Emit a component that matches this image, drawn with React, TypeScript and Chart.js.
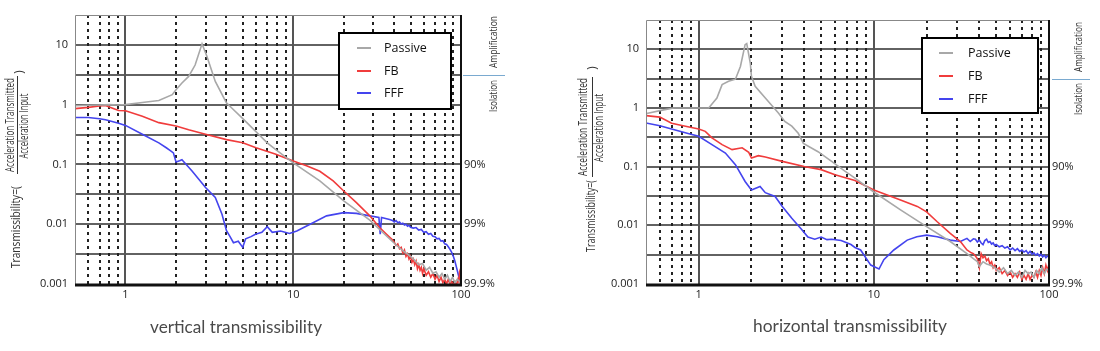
import React, { useEffect, useRef } from 'react';
import { Chart, registerables } from 'chart.js';

Chart.register(...registerables);

// ---------- axis / tick data ----------
const xTickValues = [1, 10, 100];
const xTickLabels = ['1', '10', '100'];
const yTickValues = [0.001, 0.01, 0.1, 1, 10];
const yTickLabels = ['0.001', '0.01', '0.1', '1', '10'];
const isoTickValues = [0.001, 0.01, 0.1];
const isoTickLabels = ['99.9%', '99%', '90%'];
const yGridValues = [0.00316, 0.01, 0.0316, 0.1, 0.316, 1, 3.162, 10];
const xMinorGrid = [0.6, 0.7, 0.8, 0.9, 2, 3, 4, 5, 6, 7, 8, 9, 20, 30, 40, 50, 60, 70, 80, 90];
const xMajorGrid = [1, 10];
const seriesLabels = ['Passive', 'FB', 'FFF'];
const chartTitles = ['vertical transmissibility', 'horizontal transmissibility'];

// ---------- vertical transmissibility ----------
const vPassiveFreq = [0.5, 0.6, 0.7, 0.8, 0.9, 1, 1.26, 1.58, 1.9, 2, 2.17, 2.38, 2.6, 2.86, 3.06, 3.43, 4, 4.3, 4.95, 5.95, 7, 7.8, 10, 14.4, 20, 28.6, 34.3, 40, 45, 50, 53, 56, 59, 62, 65, 68, 71, 74, 77, 80, 83, 86, 89, 92, 95, 98, 100];
const vPassiveVal = [0.96, 0.98, 0.99, 1.0, 0.99, 1.0, 1.09, 1.17, 1.47, 1.78, 2.3, 2.97, 4.6, 10.4, 6.4, 2.45, 1.07, 0.88, 0.6, 0.36, 0.23, 0.18, 0.106, 0.053, 0.0245, 0.0117, 0.0072, 0.0048, 0.0036, 0.0029, 0.0025, 0.0021, 0.0022, 0.0017, 0.0019, 0.0015, 0.0016, 0.0013, 0.0015, 0.0012, 0.0014, 0.0011, 0.0013, 0.00105, 0.0012, 0.0011, 0.00105];

const vFbFreq = [0.5, 0.6, 0.7, 0.76, 0.83, 0.91, 1, 1.26, 1.58, 2, 2.38, 3, 4, 5, 6, 7.8, 10, 12, 14.4, 17.3, 20, 23.8, 28.6, 32.7, 36, 39,
  40, 41, 42, 43, 44, 45, 46, 47, 48, 49, 50, 51, 52, 53, 54, 55, 56, 57, 58, 59, 60, 62, 64, 66, 68, 70, 72, 74, 76, 78, 80, 82, 84, 86, 88, 90, 92, 94, 96, 97, 98, 99, 100];
const vFbVal = [0.86, 0.9, 0.95, 0.97, 0.88, 0.8, 0.79, 0.64, 0.5, 0.44, 0.38, 0.32, 0.26, 0.23, 0.19, 0.15, 0.114, 0.095, 0.077, 0.053, 0.036, 0.023, 0.0138, 0.0088, 0.0068, 0.0055,
  0.0050, 0.0044, 0.0047, 0.0039, 0.0041, 0.0033, 0.0037, 0.0029, 0.0032, 0.0026, 0.0029, 0.0023, 0.0026, 0.0021, 0.0024, 0.0018, 0.0021, 0.0017, 0.0019, 0.0015, 0.0018, 0.0014, 0.0016, 0.0013, 0.0015, 0.0012, 0.0014, 0.0011, 0.0013, 0.00105, 0.0012, 0.001, 0.0012, 0.00098, 0.0011, 0.00095, 0.0011, 0.00095, 0.0012, 0.0011, 0.0015, 0.0013, 0.0021];

const vFffFreq = [0.5, 0.6, 0.7, 0.76, 0.91, 1, 1.26, 1.58, 1.75, 1.85, 1.93, 2, 2.1, 2.17, 2.5, 3, 3.43, 3.76, 4, 4.2, 4.4, 4.7, 5, 5.2, 5.6, 5.95, 6.5, 7, 7.5, 8.4, 9.5, 10.5, 12.6, 15.8, 20, 23.8, 28.6, 32.4, 33, 33.6,
  37.5, 39, 40, 41, 42, 43, 44, 45, 46, 47, 48, 49, 50, 52, 54, 56, 58, 60, 62, 64, 66, 68, 70, 72, 74, 76, 78, 80, 82, 84, 86, 88, 90, 92, 94, 96, 98, 100];
const vFffVal = [0.61, 0.61, 0.58, 0.56, 0.49, 0.45, 0.32, 0.23, 0.19, 0.17, 0.156, 0.11, 0.115, 0.12, 0.077, 0.041, 0.028, 0.0147, 0.0078, 0.0062, 0.0049, 0.0052, 0.0041, 0.0057, 0.0062, 0.0068, 0.0073, 0.0091, 0.0073, 0.0077, 0.007, 0.0077, 0.01, 0.0138, 0.0156, 0.0152, 0.0138, 0.013, 0.0068, 0.013,
  0.012, 0.0116, 0.0109, 0.0115, 0.0106, 0.0109, 0.0101, 0.0104, 0.0097, 0.0100, 0.0093, 0.0096, 0.0089, 0.0086, 0.0088, 0.0080, 0.0082, 0.0073, 0.0075, 0.0068, 0.0070, 0.0063, 0.0062, 0.0057, 0.0058, 0.0052, 0.0053, 0.0047, 0.0046, 0.0042, 0.0038, 0.0034, 0.0029, 0.0024, 0.0019, 0.0015, 0.0012, 0.001];

// ---------- horizontal transmissibility ----------
const hPassiveFreq = [0.5, 0.52, 0.62, 0.72, 0.85, 1, 1.14, 1.27, 1.36, 1.48, 1.62, 1.73, 1.84, 1.88, 1.97, 2, 2.1, 2.4, 2.85, 3.1, 3.4, 3.7, 3.96, 4.8, 5.74, 6.8, 7.8, 10, 14.2, 20, 27.3, 34, 37, 39, 40, 42, 44, 46, 49, 52, 55, 58, 61, 64, 67, 70, 73, 76, 79, 82, 85, 88, 91, 94, 97, 100];
const hPassiveVal = [0.8, 0.82, 0.92, 1.0, 1.0, 1.0, 1.0, 1.48, 2.5, 2.85, 3.1, 5.1, 12, 12.5, 5.85, 3.46, 2.34, 1.48, 0.82, 0.59, 0.49, 0.37, 0.25, 0.18, 0.123, 0.085, 0.064, 0.037, 0.0183, 0.0095, 0.0053, 0.0033, 0.0027, 0.0024, 0.002, 0.0024, 0.0022, 0.0021, 0.0019, 0.0016, 0.0019, 0.0015, 0.0017, 0.0014, 0.0016, 0.0013, 0.0017, 0.0015, 0.0016, 0.0013, 0.0017, 0.0015, 0.0019, 0.0015, 0.0018, 0.0017];

const hFbFreq = [0.5, 0.6, 0.7, 0.84, 1, 1.09, 1.19, 1.36, 1.55, 1.77, 1.93, 2, 2.19, 2.4, 3, 4, 5, 6, 7.8, 10, 14.2, 17.7, 20, 23, 27.3, 31.2,
  34, 35, 36, 37, 38, 39, 40, 41, 42, 43, 44, 45, 46, 47, 48, 49, 50, 52, 54, 56, 58, 60, 62, 64, 66, 68, 70, 72, 74, 76, 78, 80, 82, 84, 86, 88, 90, 92, 94, 96, 98, 100];
const hFbVal = [0.74, 0.7, 0.55, 0.49, 0.44, 0.4, 0.31, 0.237, 0.195, 0.21, 0.175, 0.14, 0.154, 0.146, 0.123, 0.101, 0.089, 0.073, 0.058, 0.04, 0.027, 0.021, 0.017, 0.0115, 0.0073, 0.0053,
  0.0038, 0.0036, 0.0034, 0.0033, 0.003, 0.0027, 0.0019, 0.0033, 0.0028, 0.003, 0.0025, 0.0027, 0.0022, 0.0024, 0.0019, 0.0021, 0.0017, 0.0019, 0.0015, 0.0017, 0.0014, 0.0016, 0.0013, 0.0015, 0.0013, 0.0016, 0.0012, 0.0014, 0.0012, 0.0015, 0.0012, 0.0014, 0.0013, 0.0016, 0.0013, 0.0017, 0.0014, 0.0019, 0.0015, 0.0021, 0.0017, 0.0022];

const hFffFreq = [0.5, 0.6, 0.7, 0.88, 1, 1.19, 1.42, 1.62, 1.84, 2, 2.24, 2.4, 2.73, 3, 3.4, 3.87, 4.2, 4.6, 5, 5.4, 5.74, 6.5, 7.4, 7.8, 8.4, 9.6, 10.7, 11.4, 13, 15.5, 17.6, 20, 23, 27.3, 31.2,
  34, 35.5, 37, 38, 39, 40, 41, 42, 43, 44, 45, 46, 47, 48, 49, 50, 52, 54, 56, 58, 60, 62, 64, 66, 68, 70, 72, 74, 76, 78, 80, 82, 84, 86, 88, 90, 92, 94, 96, 98, 100];
const hFffVal = [0.555, 0.5, 0.44, 0.365, 0.33, 0.237, 0.171, 0.108, 0.056, 0.04, 0.046, 0.036, 0.031, 0.021, 0.0132, 0.0085, 0.0063, 0.0058, 0.0063, 0.0057, 0.0058, 0.0055, 0.0047, 0.0042, 0.0038, 0.0021, 0.0018, 0.0026, 0.0038, 0.0056, 0.0064, 0.0068, 0.0064, 0.0056, 0.0053,
  0.006, 0.0053, 0.0059, 0.0058, 0.0052, 0.0056, 0.005, 0.0047, 0.0055, 0.0058, 0.0051, 0.0053, 0.0048, 0.005, 0.0045, 0.0047, 0.0043, 0.0045, 0.0041, 0.0043, 0.0038, 0.0041, 0.0037, 0.004, 0.0036, 0.0038, 0.0035, 0.0037, 0.0033, 0.0036, 0.0032, 0.0034, 0.0031, 0.0033, 0.003, 0.0032, 0.0029, 0.0031, 0.0028, 0.003, 0.0029];

const seriesColors = ['#a8a8a8', '#f03c3c', '#4444ee'];

const FONT = "'Open Sans', 'Liberation Sans', sans-serif";
const CW = 550;
const CH = 351;

function zip(f: number[], v: number[]) {
  const n = Math.min(f.length, v.length);
  const out: { x: number; y: number }[] = [];
  for (let i = 0; i < n; i++) out.push({ x: f[i], y: v[i] });
  return out;
}

function fitText(ctx: CanvasRenderingContext2D, text: string, cx: number, cy: number, len: number, font: string, color: string, rotate: boolean) {
  ctx.save();
  ctx.font = font;
  ctx.fillStyle = color;
  ctx.translate(cx, cy);
  if (rotate) ctx.rotate(-Math.PI / 2);
  const w = ctx.measureText(text).width;
  ctx.scale(len / w, 1);
  ctx.textAlign = 'center';
  ctx.textBaseline = 'middle';
  ctx.fillText(text, 0, 0);
  ctx.restore();
}

const leftCfg = {
  left: 0,
  area: { left: 75, right: 461, top: 15, bottom: 284 },
  title: chartTitles[0], titleX: 236, titleY: 328, titleW: 172,
  legend: { x: 339, y: 33, w: 112, h: 76, sx1: 357, sx2: 371, tx: 384, rows: [48, 71, 93] },
  yt: { tx: 17, ty: 227, tl: 82, nx: 11, ny: 125, nl: 94, lx: 17.5, ly1: 76, ly2: 174, dx: 25, dy: 126, dl: 65, px: 20, py: 72 },
  amp: { x: 494, ampY: 42, ampL: 52, isoY: 96, isoL: 32, x1: 463, x2: 505 },
  series: [zip(vPassiveFreq, vPassiveVal), zip(vFbFreq, vFbVal), zip(vFffFreq, vFffVal)],
};

const rightCfg = {
  left: 550,
  area: { left: 96, right: 499, top: 20, bottom: 284 },
  title: chartTitles[1], titleX: 300, titleY: 327, titleW: 194,
  legend: { x: 372, y: 38, w: 116, h: 75, sx1: 389, sx2: 403, tx: 418, rows: [53, 76, 99] },
  yt: { tx: 42, ty: 216, tl: 72, nx: 34, ny: 127, nl: 98, lx: 42.5, ly1: 77, ly2: 177, dx: 50, dy: 128, dl: 68, px: 43, py: 68 },
  amp: { x: 529, ampY: 47, ampL: 50, isoY: 99, isoL: 32, x1: 502, x2: 540 },
  series: [zip(hPassiveFreq, hPassiveVal), zip(hFbFreq, hFbVal), zip(hFffFreq, hFffVal)],
};

function makePlugin(cfg: any) {
  return {
    id: 'decor',
    beforeDatasetsDraw(chart: any) {
      const { ctx, chartArea: a, scales } = chart;
      const xs = scales.x, ys = scales.y;
      ctx.save();
      ctx.strokeStyle = '#626262';
      ctx.lineWidth = 2;
      for (const v of yGridValues) {
        const y = Math.round(ys.getPixelForValue(v));
        ctx.beginPath(); ctx.moveTo(a.left, y); ctx.lineTo(a.right, y); ctx.stroke();
      }
      ctx.setLineDash([3, 4]);
      ctx.strokeStyle = '#222';
      for (const v of xMinorGrid) {
        const x = Math.round(xs.getPixelForValue(v));
        ctx.beginPath(); ctx.moveTo(x, a.top); ctx.lineTo(x, a.bottom); ctx.stroke();
      }
      ctx.setLineDash([]);
      ctx.strokeStyle = '#555';
      for (const v of xMajorGrid) {
        const x = Math.round(xs.getPixelForValue(v));
        ctx.beginPath(); ctx.moveTo(x, a.top); ctx.lineTo(x, a.bottom); ctx.stroke();
      }
      ctx.restore();
    },
    afterDatasetsDraw(chart: any) {
      const { ctx, chartArea: a } = chart;
      ctx.save();
      ctx.strokeStyle = '#888'; ctx.lineWidth = 1;
      ctx.beginPath(); ctx.moveTo(a.left + 0.5, a.bottom); ctx.lineTo(a.left + 0.5, a.top + 0.5); ctx.lineTo(a.right, a.top + 0.5); ctx.stroke();
      ctx.strokeStyle = '#111'; ctx.lineWidth = 2;
      ctx.beginPath(); ctx.moveTo(a.right, a.top); ctx.lineTo(a.right, a.bottom); ctx.stroke();
      ctx.lineWidth = 3;
      ctx.beginPath(); ctx.moveTo(a.left, a.bottom + 1); ctx.lineTo(a.right + 1, a.bottom + 1); ctx.stroke();
      const L = cfg.legend;
      ctx.fillStyle = '#fff';
      ctx.fillRect(L.x, L.y, L.w, L.h);
      ctx.strokeStyle = '#000'; ctx.lineWidth = 2;
      ctx.strokeRect(L.x, L.y, L.w, L.h);
      chart.data.datasets.forEach((ds: any, i: number) => {
        const y = L.rows[i];
        ctx.strokeStyle = ds.borderColor; ctx.lineWidth = 2;
        ctx.beginPath(); ctx.moveTo(L.sx1, y); ctx.lineTo(L.sx2, y); ctx.stroke();
        ctx.fillStyle = '#111';
        ctx.font = `12.5px ${FONT}`;
        ctx.textAlign = 'left'; ctx.textBaseline = 'middle';
        ctx.fillText(ds.label, L.tx, y);
      });
      ctx.restore();
    },
    afterDraw(chart: any) {
      const { ctx, scales } = chart;
      const ys = scales.y;
      const Y = cfg.yt;
      const f = `12px ${FONT}`;
      fitText(ctx, 'Transmissibility=(', Y.tx, Y.ty, Y.tl, f, '#333', true);
      fitText(ctx, 'Acceleration Transmitted', Y.nx, Y.ny, Y.nl, f, '#333', true);
      fitText(ctx, 'Acceleration Input', Y.dx, Y.dy, Y.dl, f, '#333', true);
      fitText(ctx, ')', Y.px, Y.py, 3.5, f, '#333', true);
      ctx.save();
      ctx.strokeStyle = '#333'; ctx.lineWidth = 1;
      ctx.beginPath(); ctx.moveTo(Y.lx, Y.ly1); ctx.lineTo(Y.lx, Y.ly2); ctx.stroke();
      const A = cfg.amp;
      const yb = Math.round(ys.getPixelForValue(3.162)) + 0.5;
      ctx.strokeStyle = '#7aaad0'; ctx.lineWidth = 1;
      ctx.beginPath(); ctx.moveTo(A.x1, yb); ctx.lineTo(A.x2, yb); ctx.stroke();
      ctx.restore();
      fitText(ctx, 'Amplification', A.x, A.ampY, A.ampL, `10.5px ${FONT}`, '#333', true);
      fitText(ctx, 'Isolation', A.x, A.isoY, A.isoL, `10.5px ${FONT}`, '#333', true);
      fitText(ctx, cfg.title, cfg.titleX, cfg.titleY, cfg.titleW, `17px Lato, ${FONT}`, '#4a4a4a', false);
    },
  };
}

function TransChart({ cfg }: { cfg: any }) {
  const ref = useRef<HTMLCanvasElement>(null);
  useEffect(() => {
    const a = cfg.area;
    const chart = new Chart(ref.current as HTMLCanvasElement, {
      type: 'line',
      data: {
        datasets: cfg.series.map((pts: any, i: number) => ({
          label: seriesLabels[i],
          data: pts,
          borderColor: seriesColors[i],
          backgroundColor: seriesColors[i],
          borderWidth: 1.6,
          pointRadius: 0,
          tension: 0,
          fill: false,
          yAxisID: 'y',
        })),
      },
      options: {
        responsive: false,
        animation: false,
        events: [],
        layout: { padding: { top: a.top, left: 0, right: 0, bottom: 0 } },
        plugins: { legend: { display: false }, tooltip: { enabled: false }, title: { display: false } },
        scales: {
          x: {
            type: 'logarithmic',
            min: 0.5,
            max: 100,
            grid: { display: false, drawTicks: false },
            border: { display: false },
            afterBuildTicks: (s: any) => { s.ticks = xTickValues.map((v) => ({ value: v })); },
            afterFit: (s: any) => { s.height = CH - a.bottom; },
            ticks: {
              autoSkip: false, maxRotation: 0, padding: 4, color: '#222',
              font: { size: 11, family: FONT },
              callback: (v: any) => { const i = xTickValues.indexOf(Number(v)); return i >= 0 ? xTickLabels[i] : ''; },
            },
          },
          y: {
            type: 'logarithmic',
            position: 'left',
            min: 0.001,
            max: 31.62,
            grid: { display: false, drawTicks: false },
            border: { display: false },
            afterBuildTicks: (s: any) => { s.ticks = yTickValues.map((v) => ({ value: v })); },
            afterFit: (s: any) => { s.width = a.left; },
            ticks: {
              autoSkip: false, padding: 7, color: '#222',
              font: { size: 11, family: FONT },
              callback: (v: any) => { const i = yTickValues.indexOf(Number(v)); return i >= 0 ? yTickLabels[i] : ''; },
            },
          },
          y2: {
            type: 'logarithmic',
            position: 'right',
            min: 0.001,
            max: 31.62,
            grid: { display: false, drawTicks: false },
            border: { display: false },
            afterBuildTicks: (s: any) => { s.ticks = isoTickValues.map((v) => ({ value: v })); },
            afterFit: (s: any) => { s.width = CW - a.right; },
            ticks: {
              autoSkip: false, padding: 3, color: '#222',
              font: { size: 11, family: FONT },
              callback: (v: any) => { const i = isoTickValues.indexOf(Number(v)); return i >= 0 ? isoTickLabels[i] : ''; },
            },
          },
        },
      },
      plugins: [makePlugin(cfg)],
    } as any);
    return () => chart.destroy();
  }, [cfg]);
  return (
    <canvas
      ref={ref}
      width={CW}
      height={CH}
      style={{ position: 'absolute', left: cfg.left, top: 0, width: CW, height: CH }}
    />
  );
}

export default function App() {
  return (
    <div style={{ position: 'absolute', left: 0, top: 0, width: 1100, height: 351, background: '#fff', overflow: 'hidden' }}>
      <TransChart cfg={leftCfg} />
      <TransChart cfg={rightCfg} />
    </div>
  );
}
